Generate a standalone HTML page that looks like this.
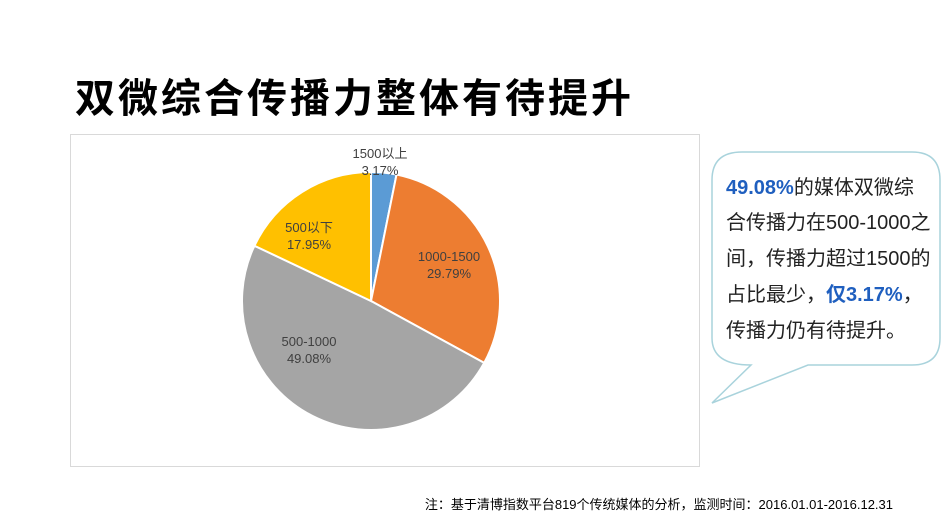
<!DOCTYPE html>
<html><head><meta charset="utf-8"><style>
body{margin:0;width:950px;height:532px;background:#fff;overflow:hidden;position:relative;font-family:"Liberation Sans","Noto Sans CJK SC",sans-serif}
#title{position:absolute;left:75px;top:66px;font-size:40px;font-weight:bold;color:#000;letter-spacing:3px;white-space:nowrap}
#frame{position:absolute;left:70px;top:134px;width:628px;height:331px;border:1px solid #d9d9d9}
#note{position:absolute;right:57px;top:494px;font-size:13px;color:#000;white-space:nowrap}
.bt{position:absolute;left:726px;font-size:20px;color:#222;white-space:nowrap}
.hl{color:#1f5fbf;font-weight:bold}
</style></head><body>
<div id="title">双微综合传播力整体有待提升</div>
<div id="frame"></div>
<svg id="pie" width="950" height="532" style="position:absolute;left:0;top:0"></svg>
<svg width="950" height="532" style="position:absolute;left:0;top:0">
<path d="M742,152 H912 Q940,152 940,180 V338 Q940,365 912,365 H808 L712,403 L751,365 Q712,365 712,338 V180 Q712,152 742,152 Z" fill="#fff" stroke="#a9d3dc" stroke-width="1.5"/>
</svg>
<div class="bt" style="top:171px"><span class="hl">49.08%</span>的媒体双微综</div>
<div class="bt" style="top:206px">合传播力在500-1000之</div>
<div class="bt" style="top:242px">间，传播力超过1500的</div>
<div class="bt" style="top:278px">占比最少，<span class="hl">仅3.17%</span>，</div>
<div class="bt" style="top:314px">传播力仍有待提升。</div>
<div id="note">注：基于清博指数平台819个传统媒体的分析，监测时间：2016.01.01-2016.12.31</div>
<script>
const categories=["1500以上","1000-1500","500-1000","500以下"];
const values=[3.17,29.79,49.08,17.95];
const colors=["#5b9bd5","#ed7d31","#a5a5a5","#ffc000"];
const labelPos=[[380,158],[449,261],[309,346],[309,232]];
const cx=371,cy=301,r=129;
const svg=document.getElementById('pie');
const NS="http://www.w3.org/2000/svg";
const total=values.reduce((a,b)=>a+b,0);
let a0=0;
function pt(a,rr){return [cx+rr*Math.sin(a),cy-rr*Math.cos(a)];}
values.forEach((v,i)=>{
  const a1=a0+v/total*2*Math.PI;
  const p0=pt(a0,r),p1=pt(a1,r);
  const p=document.createElementNS(NS,'path');
  p.setAttribute('d',`M${cx},${cy} L${p0[0]},${p0[1]} A${r},${r} 0 ${a1-a0>Math.PI?1:0} 1 ${p1[0]},${p1[1]} Z`);
  p.setAttribute('fill',colors[i]);p.setAttribute('stroke','#fff');p.setAttribute('stroke-width','2');
  
  
  svg.appendChild(p);
  a0=a1;
});
values.forEach((v,i)=>{
  const t=document.createElementNS(NS,'text');
  t.setAttribute('x',labelPos[i][0]);t.setAttribute('y',labelPos[i][1]);
  t.setAttribute('text-anchor','middle');t.setAttribute('font-size','13');t.setAttribute('fill','#404040');
  t.setAttribute('font-family','"Liberation Sans","Noto Sans CJK SC",sans-serif');
  
  
  const s1=document.createElementNS(NS,'tspan');s1.setAttribute('x',labelPos[i][0]);s1.textContent=categories[i];
  const s2=document.createElementNS(NS,'tspan');s2.setAttribute('x',labelPos[i][0]);s2.setAttribute('dy','17');s2.textContent=v.toFixed(2)+'%';
  t.appendChild(s1);t.appendChild(s2);svg.appendChild(t);
});
</script>
</body></html>
